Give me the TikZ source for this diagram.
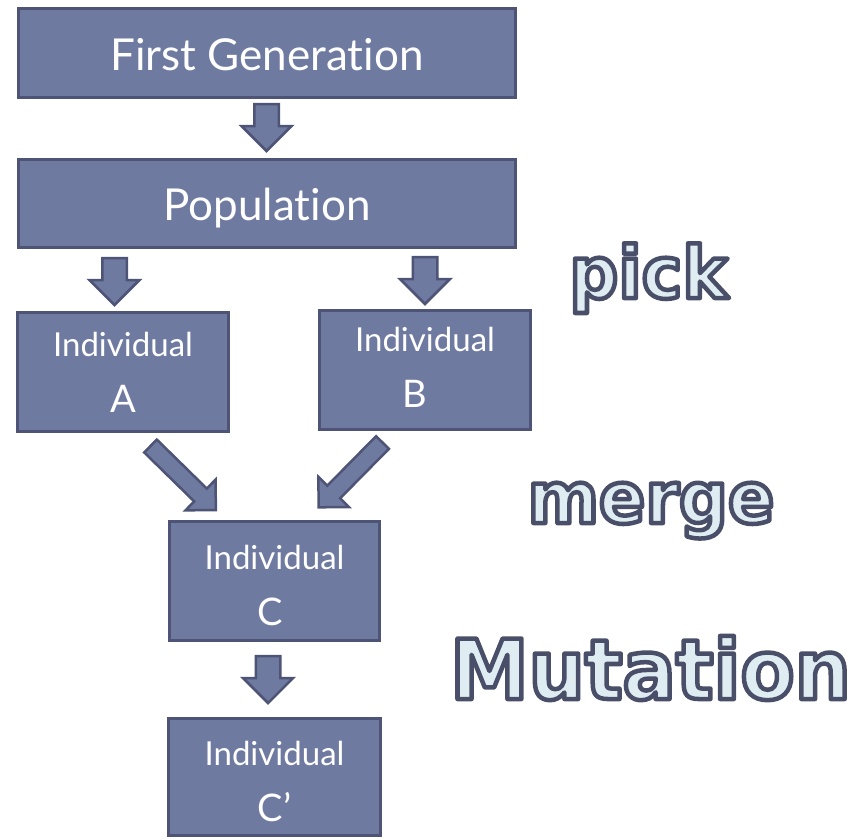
\documentclass[tikz,border=0pt]{standalone}
\usepackage{fontspec}
\setmainfont[Ligatures={NoCommon,NoRequired,NoContextual}]{Lato}
\newfontfamily\wordfont[FakeStretch=0.95]{DejaVu Sans}
\usetikzlibrary{calc}

\definecolor{boxfill}{RGB}{111,122,161}
\definecolor{boxline}{RGB}{77,84,117}
\definecolor{wordfill}{RGB}{223,237,242}

% text drawn filled and stroked: #1 stroke colour (r g b), #2 stroke width, #3 text
\newcommand\outlinetext[3]{\special{pdf:literal direct 2 Tr #2 w 1 j #1 RG}#3\special{pdf:literal direct 0 Tr}}

\begin{document}
\begin{tikzpicture}[x=1pt,y=-1pt,
  box/.style={draw=boxline, line width=3pt, fill=boxfill, text=white,
    inner sep=0pt, align=center},
  bigtext/.style={font=\fontsize{44}{50}\selectfont, text height=34pt, text depth=0pt},
  indtext/.style={font=\fontsize{33}{56}\selectfont},
  arrowbody/.style={draw=boxline, line width=2.5pt, fill=boxfill, line join=miter},
  pics/blockarrow/.style n args={3}{code={
    \path[arrowbody] (0,-#2) -- (#1-#3,-#2) -- (#1-#3,-#3) -- (#1,0)
      -- (#1-#3,#3) -- (#1-#3,#2) -- (0,#2) -- cycle;}},
  word/.style={font=\wordfont\bfseries\fontsize{#1}{#1}\selectfont, text=wordfill,
    anchor=base, inner sep=0pt},
]
\useasboundingbox (0,0) rectangle (858,839);

% boxes
\node[box, bigtext, minimum width=497, minimum height=89] (gen) at (267,53) {First Generation};
\node[box, bigtext, minimum width=497, minimum height=88] (pop) at (267,203.5) {Population};
\node[box, indtext, minimum width=211, minimum height=119] (a) at (123,372)
  {Individual\\{\fontsize{38}{56}\selectfont A}};
\node[box, indtext, minimum width=211, minimum height=119] (b) at (425,370)
  {Individual\\{\fontsize{38}{56}\selectfont B\kern20pt\rule[-5pt]{0pt}{0pt}}};
\node[box, indtext, minimum width=210, minimum height=119] (c) at (274.5,581)
  {\rule{0pt}{34pt}Individual\\{\fontsize{38}{56}\selectfont C\kern8pt}};
\node[box, indtext, minimum width=212, minimum height=117] (cp) at (274.5,777)
  {\rule{0pt}{34pt}Individual\\{\fontsize{38}{58}\selectfont C’}};

% block arrows between the boxes
\pic[rotate=-90] at ($(gen.south)+(-0.5,5)$) {blockarrow={47}{12.25}{25}};
\pic[rotate=-90] at ($(a.north)+(-8.5,-53)$) {blockarrow={47}{12.25}{25}};
\pic[rotate=-90] at ($(b.north)+(0,-52)$) {blockarrow={47}{12.25}{25}};
\pic[rotate=-44.4] at ($(a.south)+(27.5,13)$) {blockarrow={91.5}{9}{21.5}};
\pic[rotate=-134.6] at ($(b.south)+(-42.5,11.5)$) {blockarrow={91}{9}{21.5}};
\pic[rotate=-90] at ($(c.south)+(-6.5,14)$) {blockarrow={47}{12.25}{25}};

% step words, outlined
\node[word=72] (pick) at (648.5,298) {\outlinetext{0.29 0.31 0.41}{4.5}{pick}};
\node[word=72] (merge) at (651,523) {\outlinetext{0.29 0.31 0.41}{4.5}{merge}};
\node[word=83] (mut) at (650.5,699) {\outlinetext{0.29 0.31 0.41}{4.5}{Mutation}};
\end{tikzpicture}
\end{document}
